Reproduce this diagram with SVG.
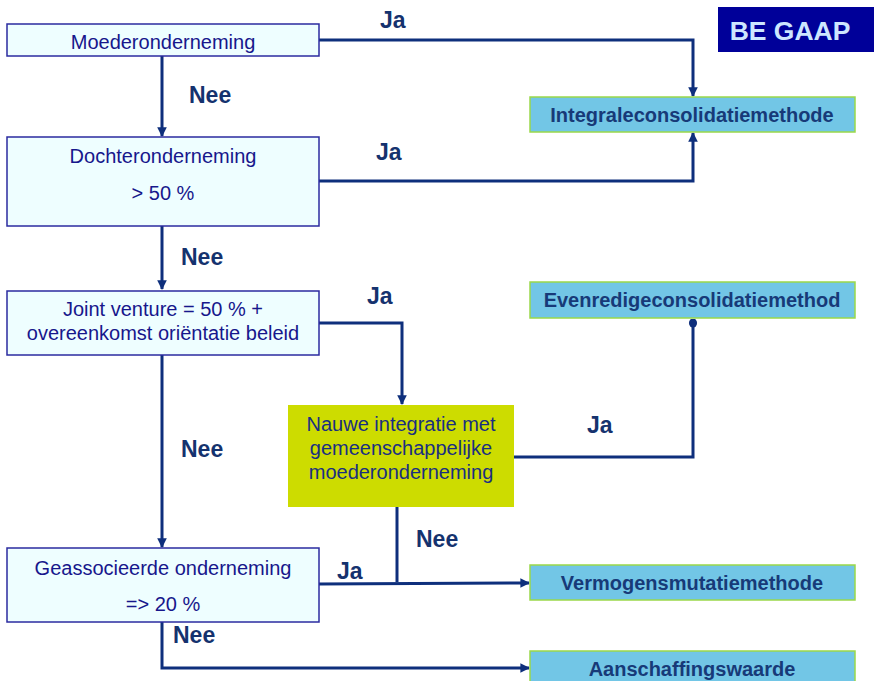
<svg xmlns="http://www.w3.org/2000/svg" width="874" height="681" viewBox="0 0 874 681">
<style>
.q{fill:#eefeff;stroke:#2b2ba0;stroke-width:1.5}
.r{fill:#72c6e6;stroke:#9ad84a;stroke-width:1.5}
.y{fill:#cddc00}
.t{font-family:"Liberation Sans",Arial,sans-serif;font-size:20px;fill:#17178c;text-anchor:middle}
.rt{font-family:"Liberation Sans",Arial,sans-serif;font-size:20px;font-weight:bold;fill:#173a78;text-anchor:middle}
.l{font-family:"Liberation Sans",Arial,sans-serif;font-size:23px;font-weight:bold;fill:#15326e}
.c{fill:none;stroke:#0e2f7c;stroke-width:3}
</style>
<defs>
<marker id="a" viewBox="0 0 10 10" refX="9" refY="5" markerWidth="3.2" markerHeight="3.2" orient="auto" markerUnits="strokeWidth">
<path d="M0,0 L10,5 L0,10 z" fill="#0e2f7c"/>
</marker>
<marker id="o" viewBox="0 0 10 10" refX="5" refY="5" markerWidth="3" markerHeight="3.4" orient="auto" markerUnits="strokeWidth">
<ellipse cx="5" cy="5" rx="5" ry="4.5" fill="#0e2f7c"/>
</marker>
</defs>
<rect width="874" height="681" fill="#ffffff"/>
<g id="begaap">
<rect x="718" y="7" width="156" height="45" fill="#000099"/>
<text x="790" y="40" font-family="Liberation Sans,Arial,sans-serif" font-size="26.5" font-weight="bold" fill="#cde6ff" text-anchor="middle">BE GAAP</text>
</g>
<g id="connectors">
<path class="c" d="M319,40 H693 V96" marker-end="url(#a)"/>
<path class="c" d="M319,181 H693 V133" marker-end="url(#a)"/>
<path class="c" d="M162,56 V136" marker-end="url(#a)"/>
<path class="c" d="M162,226 V289" marker-end="url(#a)"/>
<path class="c" d="M319,323 H402 V404" marker-end="url(#a)"/>
<path class="c" d="M162,355 V547" marker-end="url(#a)"/>
<path class="c" d="M514,457 H693 V323" marker-end="url(#o)"/>
<path class="c" d="M397,507 V582"/>
<path class="c" d="M319,584 L529,583" marker-end="url(#a)"/>
<path class="c" d="M162,622 V668 H529" marker-end="url(#a)"/>
<text class="l" x="380" y="28">Ja</text>
<text class="l" x="189" y="103">Nee</text>
<text class="l" x="376" y="160">Ja</text>
<text class="l" x="181" y="265">Nee</text>
<text class="l" x="367" y="304">Ja</text>
<text class="l" x="181" y="457">Nee</text>
<text class="l" x="587" y="433">Ja</text>
<text class="l" x="416" y="547">Nee</text>
<text class="l" x="337" y="579">Ja</text>
<text class="l" x="173" y="643">Nee</text>
</g>
<g id="moeder">
<rect class="q" x="7" y="24" width="312" height="32"/>
<text class="t" x="163" y="49">Moederonderneming</text>
</g>
<g id="dochter">
<rect class="q" x="7" y="137" width="312" height="89"/>
<text class="t" x="163" y="163">Dochteronderneming</text>
<text class="t" x="163" y="200">&gt; 50 %</text>
</g>
<g id="jointventure">
<rect class="q" x="7" y="291" width="312" height="64"/>
<text class="t" x="163" y="316">Joint venture = 50 % +</text>
<text class="t" x="163" y="340">overeenkomst oriëntatie beleid</text>
</g>
<g id="geassocieerde">
<rect class="q" x="7" y="548" width="312" height="74"/>
<text class="t" x="163" y="575">Geassocieerde onderneming</text>
<text class="t" x="163" y="611">=&gt; 20 %</text>
</g>
<g id="nauwe">
<rect class="y" x="288" y="405" width="226" height="102"/>
<text class="t" x="401" y="431" style="fill:#1a2f80">Nauwe integratie met</text>
<text class="t" x="401" y="455" style="fill:#1a2f80">gemeenschappelijke</text>
<text class="t" x="401" y="479" style="fill:#1a2f80">moederonderneming</text>
</g>
<g id="integrale">
<rect class="r" x="530" y="97" width="325" height="35"/>
<text class="rt" x="692" y="122">Integraleconsolidatiemethode</text>
</g>
<g id="evenredige">
<rect class="r" x="530" y="282" width="325" height="36"/>
<text class="rt" x="692" y="307">Evenredigeconsolidatiemethod</text>
</g>
<g id="vermogens">
<rect class="r" x="530" y="565" width="325" height="35"/>
<text class="rt" x="692" y="590">Vermogensmutatiemethode</text>
</g>
<g id="aanschaffing">
<rect class="r" x="530" y="651" width="325" height="40"/>
<text class="rt" x="692" y="676">Aanschaffingswaarde</text>
</g>
</svg>
